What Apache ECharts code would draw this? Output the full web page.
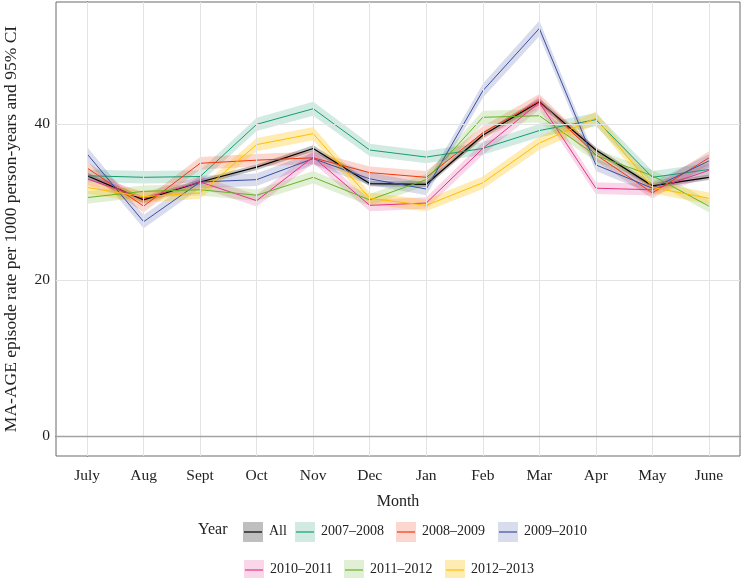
<!DOCTYPE html>
<html>
<head>
<meta charset="utf-8">
<script src="https://cdn.jsdelivr.net/npm/echarts@6/dist/echarts.min.js"></script>
<style>html,body{margin:0;padding:0;background:#fff}#c{width:741px;height:578px}</style>
</head>
<body>
<div id="c"></div>
<script>
// ---- data ----
const months = ['July','Aug','Sept','Oct','Nov','Dec','Jan','Feb','Mar','Apr','May','June'];
const yTicks = [0, 20, 40];
const yearNames = ['All','2007–2008','2008–2009','2009–2010','2010–2011','2011–2012','2012–2013'];

const rateAll  = [33.4, 30.3, 32.6, 34.5, 36.9, 32.4, 32.3, 38.6, 42.9, 36.7, 32.1, 33.2];
const rate0708 = [33.4, 33.2, 33.3, 40.0, 42.0, 36.7, 35.8, 36.9, 39.2, 40.6, 33.2, 34.2];
const rate0809 = [34.4, 29.5, 35.0, 35.4, 35.7, 33.8, 33.2, 38.9, 43.0, 36.1, 31.2, 35.7];
const rate0910 = [36.2, 27.5, 32.6, 32.9, 35.6, 33.0, 31.7, 44.3, 52.3, 34.8, 31.8, 35.3];
const rate1011 = [33.0, 30.5, 32.6, 30.2, 35.8, 29.6, 29.9, 36.9, 42.8, 31.8, 31.6, 34.1];
const rate1112 = [30.6, 31.4, 31.6, 30.9, 33.2, 30.3, 32.9, 40.9, 41.1, 36.0, 33.4, 29.5];
const rate1213 = [31.9, 30.7, 31.2, 37.4, 38.8, 30.5, 29.6, 32.5, 37.6, 40.8, 31.9, 30.5];

const ciAll  = [0.40, 0.40, 0.35, 0.35, 0.40, 0.35, 0.35, 0.40, 0.45, 0.40, 0.35, 0.35];
const ci0708 = [0.80, 0.80, 0.80, 0.85, 0.90, 0.80, 0.80, 0.80, 0.85, 0.85, 0.80, 0.80];
const ci0809 = [0.80, 0.80, 0.80, 0.80, 0.80, 0.80, 0.80, 0.85, 0.90, 0.80, 0.75, 0.85];
const ci0910 = [0.90, 0.85, 0.80, 0.80, 0.80, 0.80, 0.80, 0.90, 1.00, 0.80, 0.75, 0.85];
const ci1011 = [0.80, 0.75, 0.75, 0.75, 0.80, 0.75, 0.75, 0.80, 0.90, 0.75, 0.75, 0.85];
const ci1112 = [0.80, 0.75, 0.75, 0.75, 0.80, 0.75, 0.75, 0.85, 0.85, 0.80, 0.75, 0.80];
const ci1213 = [0.80, 0.75, 0.75, 0.85, 0.85, 0.75, 0.75, 0.80, 0.85, 0.85, 0.75, 0.75];

// ---- styling ----
const lineColors = ['#000000','#179c70','#f2380f','#3b4fa3','#e3338d','#67b22a','#ffbf00'];
const bandAlpha = [0.25, 0.2, 0.2, 0.2, 0.2, 0.2, 0.3];
const rates = [rateAll, rate0708, rate0809, rate0910, rate1011, rate1112, rate1213];
const cis = [ciAll, ci0708, ci0809, ci0910, ci1011, ci1112, ci1213];
const FONT = '"Liberation Serif", "DejaVu Serif", serif';

function hexToRgba(h, a) {
  const r = parseInt(h.slice(1,3),16), g = parseInt(h.slice(3,5),16), b = parseInt(h.slice(5,7),16);
  return 'rgba(' + r + ',' + g + ',' + b + ',' + a + ')';
}
function blend(h, a) {
  const c = [1,3,5].map(i => Math.round(255 - a * (255 - parseInt(h.slice(i,i+2),16))));
  return 'rgb(' + c.join(',') + ')';
}

const series = [];
// bands first
rates.forEach((vals, k) => {
  const ci = cis[k];
  series.push({
    type: 'custom',
    name: yearNames[k] + ' CI',
    silent: true,
    z: 1,
    data: [[0]],
    renderItem: function (params, api) {
      const upper = vals.map((v, i) => api.coord([i, v + ci[i]]));
      const lower = vals.map((v, i) => api.coord([i, v - ci[i]])).reverse();
      return {
        type: 'polygon',
        shape: { points: upper.concat(lower) },
        style: { fill: hexToRgba(lineColors[k], bandAlpha[k]), stroke: null }
      };
    }
  });
});
// grid lines & zero line
const gridSeries = {
  type: 'line', name: 'grid', data: [], silent: true, z: 0,
  markLine: {
    silent: true, symbol: 'none', animation: false,
    label: { show: false },
    lineStyle: { color: '#e3e3e3', width: 1, type: 'solid' },
    data: yTicks.filter(v => v !== 0).map(v => ({ yAxis: v }))
      .concat(months.map((m, i) => ({ xAxis: i })))
      .concat([{ yAxis: 0, lineStyle: { color: '#a3a3a3', width: 1.3 } }])
  }
};
series.push(gridSeries);
// lines
rates.forEach((vals, k) => {
  series.push({
    type: 'line',
    name: yearNames[k],
    z: 3,
    data: vals.map((v, i) => [i, v]),
    showSymbol: false,
    symbol: 'none',
    lineStyle: { color: lineColors[k], width: k === 0 ? 1.2 : 1 },
    itemStyle: { color: lineColors[k] },
    animation: false
  });
});

// legend (drawn as graphic elements, ggplot-style keys)
const legendGraphic = [];
legendGraphic.push({ type: 'text', left: 198, top: 522, style: { text: 'Year', font: '16px ' + FONT, fill: '#222' } });
const legendPos = [
  [243, 522], [295, 522], [396, 522], [498, 522],
  [244, 560], [344, 560], [445, 560]
];
yearNames.forEach((n, k) => {
  const [x, y] = legendPos[k];
  legendGraphic.push({ type: 'rect', shape: { x: x, y: y, width: 20, height: 20 }, style: { fill: blend(lineColors[k], bandAlpha[k]) } });
  legendGraphic.push({ type: 'line', shape: { x1: x + 1, y1: y + 10, x2: x + 19, y2: y + 10 }, style: { stroke: lineColors[k], lineWidth: 1.2 } });
  legendGraphic.push({ type: 'text', left: x + 26, top: y + 2, style: { text: n, font: '14px ' + FONT, fill: '#222' } });
});

const chart = echarts.init(document.getElementById('c'), null, { renderer: 'canvas' });
chart.setOption({
  animation: false,
  backgroundColor: '#ffffff',
  textStyle: { fontFamily: FONT },
  grid: { left: 56, right: 1, top: 2, bottom: 122, containLabel: false, outerBoundsMode: 'none', show: true, borderColor: '#6a6a6a', borderWidth: 1, backgroundColor: 'transparent' },
  xAxis: {
    type: 'value', min: -0.55, max: 11.55,
    name: 'Month', nameLocation: 'middle', nameGap: 38,
    nameTextStyle: { fontFamily: FONT, fontSize: 16, color: '#222' },
    axisLine: { show: true, lineStyle: { color: '#444', width: 1 } },
    axisTick: { show: true, length: 4, lineStyle: { color: '#444' }, customValues: months.map((m, i) => i) },
    axisLabel: { customValues: months.map((m, i) => i), formatter: v => months[Math.round(v)] || '', fontFamily: FONT, fontSize: 15.5, color: '#222', margin: 12 },
    splitLine: { show: false }
  },
  yAxis: {
    type: 'value', min: -2.57, max: 55.7,
    name: 'MA-AGE episode rate per 1000 person-years and 95% CI', nameLocation: 'middle', nameGap: 36,
    nameTextStyle: { fontFamily: FONT, fontSize: 17.5, color: '#222' },
    axisLine: { show: true, lineStyle: { color: '#444', width: 1 } },
    axisTick: { show: true, length: 4, lineStyle: { color: '#444' }, customValues: yTicks },
    axisLabel: { customValues: yTicks, fontFamily: FONT, fontSize: 15.5, color: '#222', margin: 6 },
    splitLine: { show: false }
  },
  series: series,
  graphic: legendGraphic
});
</script>
</body>
</html>
